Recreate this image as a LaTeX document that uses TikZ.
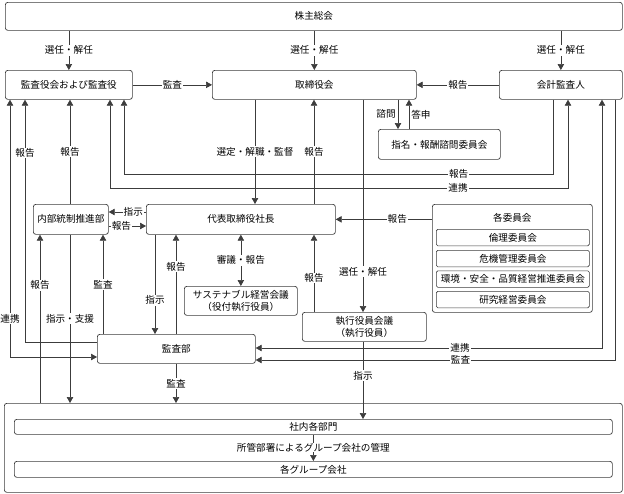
\documentclass[tikz,border=0pt]{standalone}
\usepackage{fontspec}
\setmainfont{Noto Sans CJK JP}
\usetikzlibrary{arrows.meta,positioning}
\definecolor{linec}{HTML}{3C3C3C}
\begin{document}
\begin{tikzpicture}[x=1pt, y=-1pt, font=\fontsize{9.6}{12}\selectfont,
      box/.style={draw=linec, line width=.7pt, rounded corners=2.5pt, align=center, inner sep=0pt, anchor=north west},
      sub/.style={box, rounded corners=1.5pt, minimum width=153pt, minimum height=16.5pt},
      lab/.style={fill=white, inner sep=1pt},
      arr/.style={draw=linec, line width=.7pt, -{Triangle[length=6pt,width=6.5pt]}},
      darr/.style={arr, {Triangle[length=6pt,width=6.5pt]}-{Triangle[length=6pt,width=6.5pt]}},
      ln/.style={draw=linec, line width=.7pt}]
      \useasboundingbox (0,0) rectangle (624,493);
      % boxes
      \node[box, minimum width=617pt, minimum height=28pt] (kabu) at (5,2) {株主総会};
      \node[box, minimum width=127pt, minimum height=29pt] (kansa) at (5,70) {監査役会および監査役};
      \node[box, minimum width=204pt, minimum height=29pt] (tori) at (212,70) {取締役会};
      \node[box, minimum width=123pt, minimum height=29pt] (kaikei) at (499,70) {会計監査人};
      \node[box, minimum width=122pt, minimum height=30pt] (shimon) at (378,129) {指名・報酬諮問委員会};
      \node[box, minimum width=75pt, minimum height=30pt] (naibu) at (33,204) {内部統制推進部};
      \node[box, minimum width=189pt, minimum height=30pt] (shacho) at (146,204) {代表取締役社長};
      \node[box, minimum width=160pt, minimum height=108pt] (iin) at (432,204) {};
      \node (iintop) at (iin.north |- 0,218) {各委員会};
      \node[sub] (rinri) at (436,229) {倫理委員会};
      \node[sub] (kiki) at (436,250) {危機管理委員会};
      \node[sub] (kankyo) at (436,270.5) {環境・安全・品質経営推進委員会};
      \node[sub] (kenkyu) at (436,291) {研究経営委員会};
      \node[box, minimum width=113pt, minimum height=29pt] (sus) at (184,286) {サステナブル経営会議\\（役付執行役員）};
      \node[box, minimum width=124pt, minimum height=29pt] (shikko) at (302,312) {執行役員会議\\（執行役員）};
      \node[box, minimum width=158pt, minimum height=29pt] (kbu) at (97,334) {監査部};
      \node[box, minimum width=618pt, minimum height=89pt] (grpall) at (4,403) {};
      \node[box, minimum width=598pt, minimum height=15pt] (shanai) at (14,419) {社内各部門};
      \node[box, minimum width=598pt, minimum height=16pt] (grp) at (14,461) {各グループ会社};
      % shareholders
      \draw[arr] (kabu.south -| kansa.north) -- node[lab] {選任・解任} (kansa.north);
      \draw[arr] (kabu.south -| tori.north) -- node[lab] {選任・解任} (tori.north);
      \draw[arr] (kabu.south -| kaikei.north) -- node[lab] {選任・解任} (kaikei.north);
      \draw[arr] (kansa) -- node[lab] {監査} (tori);
      \draw[arr] (kaikei) -- node[lab] {報告} (tori);
      % board
      \draw[arr] (tori.south -| 255,0) -- node[lab] {選定・解職・監督} (shacho.north -| 255,0);
      \draw[arr] (shacho.north -| 314,0) -- node[lab] {報告} (tori.south -| 314,0);
      \draw[arr] (tori.south -| 363,0) -- node[lab, pos=.81] {選任・解任} (shikko.north -| 363,0);
      \draw[arr] (tori.south -| 398,0) -- node[left=1pt, inner sep=1pt] {諮問} (shimon.north -| 398,0);
      \draw[arr] (shimon.north -| 409,0) -- node[right=1pt, inner sep=1pt] {答申} (tori.south -| 409,0);
      % auditors
      \draw[arr] (kaikei.south -| 553,0) -- (553,174) -- node[lab, pos=.22] {報告} (124,174) -- (kansa.south -| 124,0);
      \draw[darr] (kaikei.south -| 568,0) -- (568,188) -- node[lab, pos=.24] {連携} (110,188) -- (kansa.south -| 110,0);
      \draw[darr] (kansa.south -| 10,0) -- node[lab, pos=.85] {連携} (10,357) -- (kbu.west |- 0,357);
      \draw[arr] (kbu.west |- 0,342) -- (25,342) -- node[lab, pos=.78] {報告} (kansa.south -| 25,0);
      \draw[arr] (naibu.north -| 70,0) -- node[lab] {報告} (kansa.south -| 70,0);
      \draw[darr] (kbu.east |- 0,348) -- node[lab, pos=.59] {連携} (602,348) -- (kaikei.south -| 602,0);
      \draw[arr] (kaikei.south -| 615,0) -- (615,360) -- node[lab, pos=.43] {監査} (kbu.east |- 0,360);
      % president
      \draw[arr] (shacho.west |- 0,212) -- node[lab, pos=.34] {指示} (naibu.east |- 0,212);
      \draw[arr] (naibu.east |- 0,226) -- node[lab, pos=.34] {報告} (shacho.west |- 0,226);
      \draw[arr] (iin.west |- shacho) -- node[lab, pos=.36] {報告} (shacho.east);
      \draw[darr] (shacho) -- node[lab] {審議・報告} (sus);
      \draw[arr] (shikko.north -| 314,0) -- node[lab, pos=.44] {報告} (shacho.south -| 314,0);
      \draw[arr] (shacho.south -| 155,0) -- node[lab, pos=.66] {指示} (kbu.north -| 155,0);
      \draw[arr] (kbu.north -| 176,0) -- node[lab, pos=.68] {報告} (shacho.south -| 176,0);
      % internal control
      \draw[arr] (grpall.north -| 40,0) -- node[lab, pos=.7] {報告} (naibu.south -| 40,0);
      \draw[arr] (naibu.south -| 70,0) -- node[lab] {指示・支援} (grpall.north -| 70,0);
      \draw[arr] (kbu.north -| 103,0) -- node[lab] {監査} (naibu.south -| 103,0);
      % departments
      \draw[arr] (kbu.south -| 176,0) -- node[lab] {監査} (grpall.north -| 176,0);
      \draw[arr] (shikko.south -| 363,0) -- node[lab, pos=.44] {指示} (shanai.north -| 363,0);
      \draw[arr] (shanai) -- node[lab, inner sep=0pt] {所管部署によるグループ会社の管理} (grp);
\end{tikzpicture}
\end{document}
